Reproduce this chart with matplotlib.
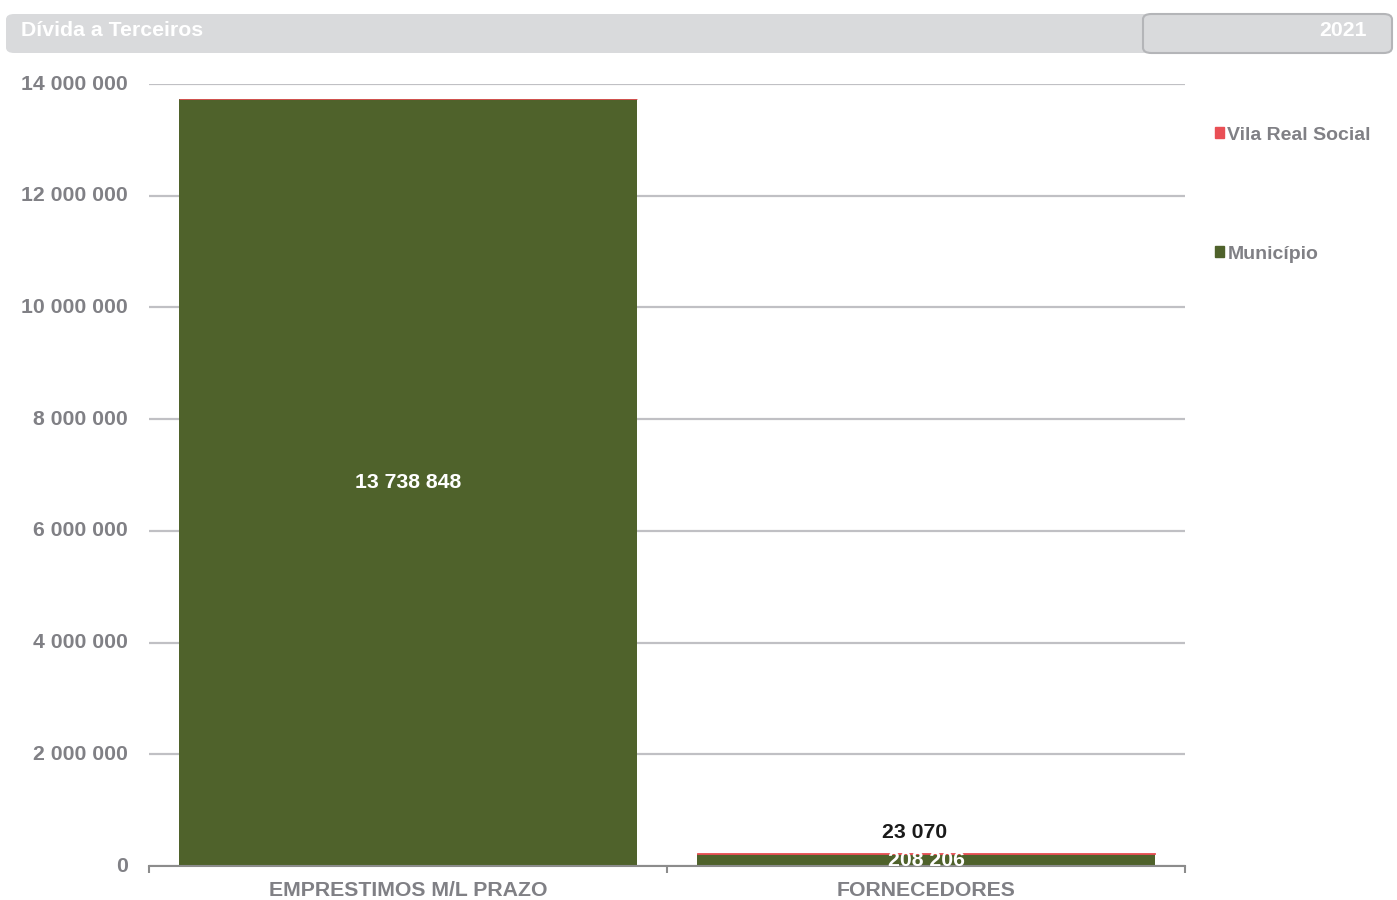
import matplotlib.pyplot as plt
import numpy as np
from matplotlib.patches import FancyBboxPatch, Patch
from matplotlib.ticker import FuncFormatter

categories = ['EMPRESTIMOS M/L PRAZO', 'FORNECEDORES']
municipio = [13738848, 208206]
vila_real_social = [0, 23070]
year_label = '2021'
title = 'Dívida a Terceiros'

GREEN = '#4f622b'
RED = '#e94f55'
GREY_TXT = '#808085'
GRID = '#c0c0c4'
FS = 15.3


def fmt(v):
    return '{:,.0f}'.format(v).replace(',', ' ')


def main():
    plt.rcParams['font.family'] = ['Liberation Sans', 'DejaVu Sans']
    plt.rcParams['font.weight'] = 'bold'

    fig = plt.figure(figsize=(13.97, 9), dpi=100)
    W, H = 1397, 900
    ax = fig.add_axes([149 / W, 1 - 866 / H, (1185 - 149) / W, (866 - 84) / H])

    x = np.arange(len(categories))
    width = 0.884
    ax.bar(x, municipio, width, color=GREEN, zorder=3)
    ax.bar(x, vila_real_social, width, bottom=municipio, color=RED,
           edgecolor=RED, lw=0.6, zorder=3)

    ax.set_xlim(-0.5, len(categories) - 0.5)
    ax.set_ylim(0, 14000000)
    ax.set_yticks(np.arange(0, 14000001, 2000000))
    ax.yaxis.set_major_formatter(FuncFormatter(lambda y, _: fmt(y)))
    ax.yaxis.grid(True, color=GRID, lw=1.6, zorder=0)
    ax.tick_params(axis='y', length=0, pad=15, labelsize=FS, labelcolor=GREY_TXT)
    for lbl in ax.get_yticklabels():
        lbl.set_verticalalignment('center')

    ax.set_xticks(x)
    ax.set_xticklabels(categories)
    ax.set_xticks([-0.5, 0.5, 1.5], minor=True)
    ax.tick_params(axis='x', which='major', length=0, pad=11, labelsize=FS,
                   labelcolor=GREY_TXT)
    ax.tick_params(axis='x', which='minor', length=5, width=1.5, color='#8c8c8c')

    for s in ['left', 'right', 'top']:
        ax.spines[s].set_visible(False)
    ax.spines['bottom'].set_color('#8c8c8c')
    ax.spines['bottom'].set_linewidth(1.5)
    ax.spines['bottom'].set_zorder(4)

    # value labels
    for i, (m, v) in enumerate(zip(municipio, vila_real_social)):
        ax.text(i, m / 2, fmt(m), ha='center', va='center', color='white',
                fontsize=FS, zorder=5)
        if v:
            ax.annotate(fmt(v), (i, m + v), xytext=(-8, 15), textcoords='offset points',
                        ha='center', va='center', color='#1a1a1a', fontsize=FS)

    handles = [Patch(color=RED, label='Vila Real Social'),
               Patch(color=GREEN, label='Município')]
    leg = fig.legend(handles=handles, loc='upper left', bbox_to_anchor=(1205 / W, 1 - 117 / H),
                     frameon=False, fontsize=14, handlelength=0.5, handleheight=0.5,
                     handletextpad=0.15, labelspacing=5.25, borderpad=0)
    for t in leg.get_texts():
        t.set_color(GREY_TXT)

    # header band
    fig.patches.append(FancyBboxPatch((6 / W, 1 - 53 / H), (1392 - 6) / W, 39 / H,
                                      boxstyle='round,pad=0,rounding_size=0.006',
                                      transform=fig.transFigure, facecolor='#d9dadc',
                                      edgecolor='none', zorder=0))
    fig.patches.append(FancyBboxPatch((1143 / W, 1 - 53 / H), (1392 - 1143) / W, 39 / H,
                                      boxstyle='round,pad=0,rounding_size=0.006',
                                      transform=fig.transFigure, facecolor='#d9dadc',
                                      edgecolor='#b4b5b8', lw=1.5, zorder=1))
    fig.text(21 / W, 1 - 31 / H, title, color='white', fontsize=FS, va='center', ha='left')
    fig.text(1367 / W, 1 - 31 / H, year_label, color='white', fontsize=FS, va='center', ha='right')

    fig.savefig('out.png', dpi=100)


if __name__ == '__main__':
    main()
